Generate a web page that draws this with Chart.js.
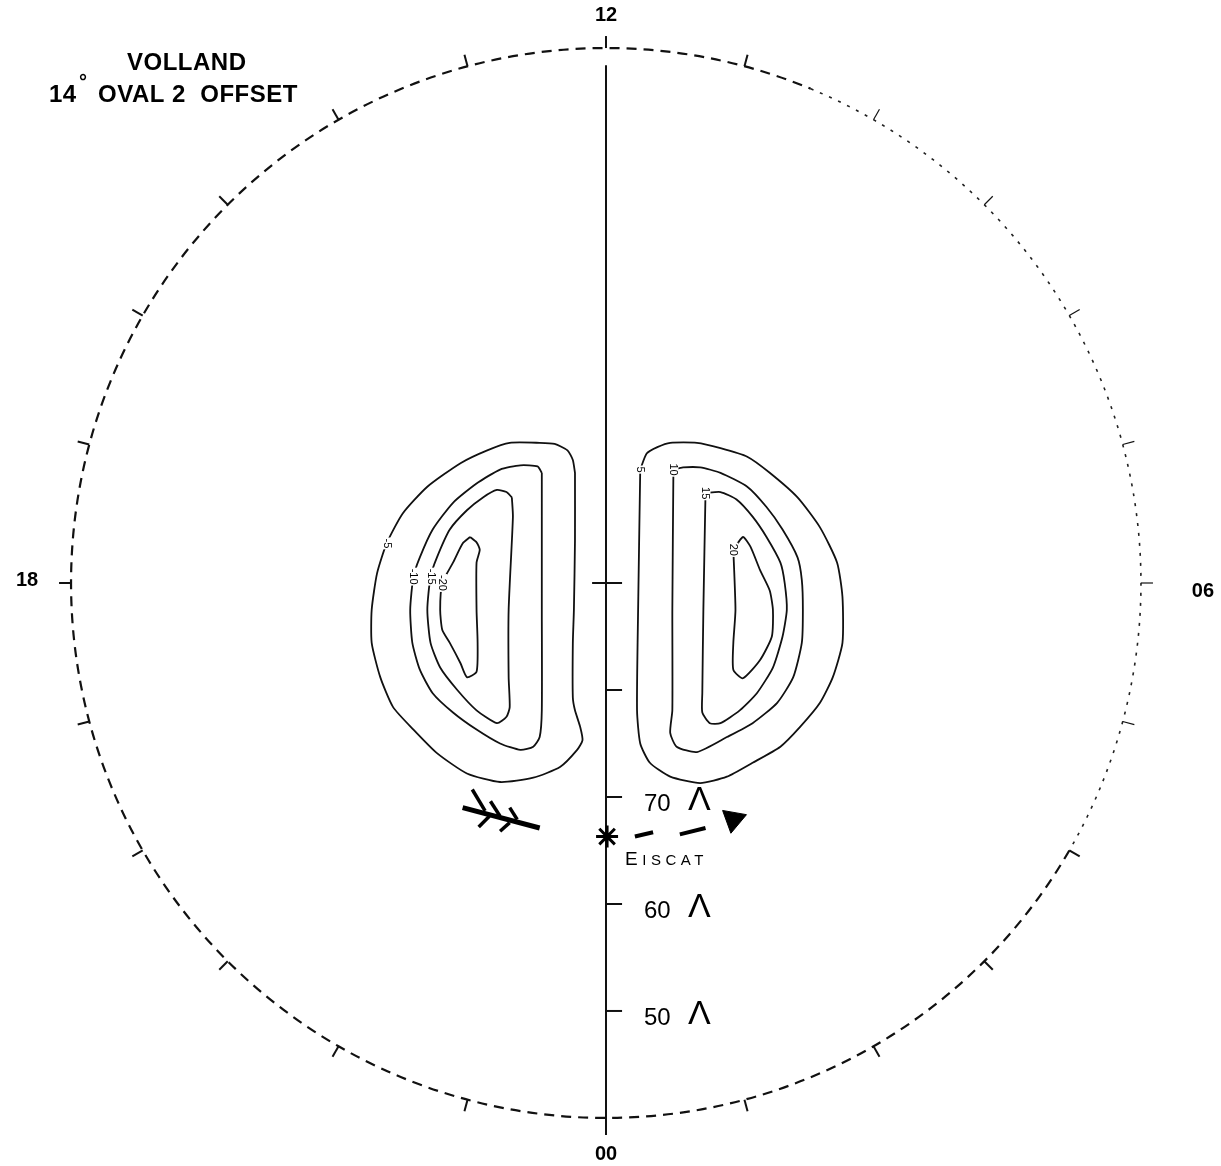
<!DOCTYPE html>
<html>
<head>
<meta charset="utf-8">
<title>Volland 14° oval 2 offset</title>
<script src="https://cdn.jsdelivr.net/npm/chart.js@4.4.1/dist/chart.umd.min.js"></script>
<style>
  html, body { margin: 0; padding: 0; background: #fff; }
  #wrap { width: 1221px; height: 1166px; }
</style>
</head>
<body>
<div id="wrap"><canvas id="mapa" width="1221" height="1166"></canvas></div>
<script>
// polar map, x / y = degrees of colatitude from the pole (12 MLT up, 18 MLT left)
const hourLabels = ['12', '18', '00', '06'];
const latTicks = [90, 80, 70, 60, 50];
const latLabels = [70, 60, 50];
const boundaryColat = 50;

// potential contours (kV)
const contourLevels = ['-5', '-10', '-15', '-20', '5', '10', '15', '20'];
const labelAt = [10, 8, 7, 12, 0, 0, 0, 0];

const cNeg5 = [[-2.9,10.3],[-3.1,11.5],[-3.6,12.4],[-4.8,13.0],[-6.2,13.1],[-9.0,13.1],[-11.1,12.4],[-13.6,11.2],
  [-16.7,9.0],[-19.0,6.5],[-20.5,3.7],[-21.4,0.9],[-21.9,-2.5],[-21.9,-5.6],[-21.1,-8.8],[-19.9,-11.6],
  [-18.0,-13.7],[-15.8,-15.9],[-13.0,-17.8],[-9.9,-18.6],[-6.8,-18.2],[-4.3,-17.2],[-2.7,-15.6],[-2.2,-14.7],
  [-2.4,-13.5],[-2.9,-11.9],[-3.1,-10.7],[-3.1,-5.6],[-3.0,-2.5],[-2.9,4.0],[-2.9,10.3]];
const cNeg10 = [[-6.0,10.3],[-6.4,10.9],[-8.0,11.0],[-9.9,10.6],[-12.1,9.3],[-14.3,7.5],[-16.2,5.0],[-17.4,2.4],
  [-18.0,0.6],[-18.3,-2.5],[-18.1,-5.6],[-17.4,-8.1],[-16.2,-10.3],[-14.3,-12.1],[-12.1,-13.7],[-9.9,-15.0],
  [-8.0,-15.6],[-6.8,-15.3],[-6.2,-14.4],[-6.0,-11.9],[-6.0,-2.5],[-6.0,10.3]];
const cNeg15 = [[-8.8,8.0],[-9.3,8.5],[-10.2,8.7],[-11.5,8.0],[-13.0,6.8],[-14.6,5.0],[-15.8,2.4],[-16.4,0.6],
  [-16.7,-2.5],[-16.4,-5.6],[-15.5,-7.9],[-13.9,-10.0],[-12.1,-11.9],[-10.2,-13.1],[-9.3,-12.5],[-9.0,-11.6],
  [-9.1,-8.8],[-9.1,-2.5],[-8.7,6.2],[-8.8,8.0]];
const cNeg20 = [[-12.7,4.3],[-12.1,3.8],[-11.8,3.1],[-12.1,1.9],[-12.1,-2.5],[-12.0,-5.6],[-12.1,-8.3],[-13.0,-8.8],
  [-13.6,-7.5],[-14.6,-5.6],[-15.3,-4.4],[-15.5,-2.5],[-15.3,0.0],[-14.3,1.9],[-13.4,3.7],[-12.7,4.3]];
const cPos5 = [[3.2,10.6],[3.8,12.1],[4.8,12.7],[6.0,13.1],[8.5,13.1],[10.7,12.6],[13.2,11.8],[15.3,10.3],
  [17.9,8.0],[20.0,5.2],[21.6,1.9],[22.1,-1.3],[22.1,-5.6],[21.2,-8.8],[20.0,-11.2],[18.1,-13.5],
  [16.3,-15.3],[13.7,-16.8],[11.3,-18.1],[8.8,-18.7],[6.0,-18.1],[4.1,-16.8],[3.2,-15.0],[2.9,-11.9],
  [3.0,-2.5],[3.2,10.6]];
const cPos10 = [[6.3,10.6],[7.2,10.8],[8.8,10.8],[10.7,10.3],[13.2,9.0],[15.0,7.1],[16.5,5.0],[17.9,2.4],
  [18.3,0.3],[18.4,-2.5],[18.3,-5.6],[17.5,-8.8],[16.0,-11.2],[13.7,-13.1],[11.3,-14.4],[8.5,-15.8],
  [6.6,-15.3],[6.0,-14.0],[6.2,-11.9],[6.2,-2.5],[6.3,10.6]];
const cPos15 = [[9.3,8.4],[10.7,8.5],[12.2,7.8],[13.7,6.2],[15.0,4.3],[16.3,1.9],[16.7,0.0],[16.9,-2.5],
  [16.5,-5.0],[15.6,-7.9],[14.1,-10.3],[12.5,-11.9],[10.7,-13.1],[9.7,-13.1],[9.0,-12.1],[9.0,-10.3],
  [9.1,-2.5],[9.3,8.4]];
const cPos20 = [[11.9,3.1],[12.8,4.3],[13.5,3.4],[14.4,1.2],[15.3,-0.7],[15.6,-2.5],[15.5,-5.0],[14.4,-7.2],
  [12.8,-8.9],[11.9,-8.1],[11.9,-5.6],[12.1,-2.5],[11.9,3.1]];
const contours = [cNeg5, cNeg10, cNeg15, cNeg20, cPos5, cPos10, cPos15, cPos20];

// hand-drawn flow marks near EISCAT
const eiscat = [0.1, -23.7];
const flowShaft = [[-13.4,-21.0],[-6.2,-22.9]];
const flowBarbs = [
  [[-12.5,-19.3],[-11.3,-21.3]],
  [[-10.8,-20.4],[-9.9,-21.8]],
  [[-9.0,-21.0],[-8.3,-22.1]],
  [[-11.9,-22.8],[-10.9,-21.8]],
  [[-9.9,-23.2],[-9.0,-22.4]]
];
const flowDashes = [
  [[2.7,-23.7],[4.4,-23.3]],
  [[6.9,-23.5],[9.3,-22.9]]
];
const flowHead = [11.9, -22.1];

const toXY = arr => arr.map(p => ({ x: p[0], y: p[1] }));

const datasets = [];
contours.forEach((c, i) => {
  datasets.push({
    label: contourLevels[i],
    data: toXY(c),
    showLine: true,
    borderColor: '#111',
    borderWidth: 1.8,
    pointRadius: 0,
    tension: 0.2
  });
});
datasets.push({ label: 'shaft', data: toXY(flowShaft), showLine: true, borderColor: '#000', borderWidth: 5, pointRadius: 0 });
flowBarbs.forEach(b => {
  datasets.push({ label: 'barb', data: toXY(b), showLine: true, borderColor: '#000', borderWidth: 3.5, pointRadius: 0 });
});
flowDashes.forEach(d => {
  datasets.push({ label: 'dash', data: toXY(d), showLine: true, borderColor: '#000', borderWidth: 4, pointRadius: 0 });
});
datasets.push({ label: 'head', data: toXY([flowHead]), pointStyle: 'triangle', rotation: 190, pointRadius: 14,
  backgroundColor: '#000', borderColor: '#000', borderWidth: 1 });
datasets.push({ label: 'EISCAT', data: toXY([eiscat]), pointStyle: 'star', pointRadius: 11,
  borderColor: '#000', borderWidth: 3 });

const FONT = '"Liberation Sans", Arial, sans-serif';

const marco = {
  id: 'marco',
  beforeDatasetsDraw(chart) {
    const { ctx, scales: { x, y } } = chart;
    const cx = x.getPixelForValue(0), cy = y.getPixelForValue(0);
    const rx = x.getPixelForValue(boundaryColat) - cx;
    const ry = cy - y.getPixelForValue(boundaryColat);
    const deg = Math.PI / 180;
    ctx.save();
    ctx.strokeStyle = '#111';
    // boundary circle: heavy dashes, the dawn side copied faint
    ctx.lineWidth = 2.2;
    ctx.setLineDash([10, 7]);
    ctx.beginPath();
    ctx.ellipse(cx, cy, rx, ry, 0, 30 * deg, 292.5 * deg);
    ctx.stroke();
    ctx.strokeStyle = '#222';
    ctx.lineWidth = 1.6;
    ctx.setLineDash([3, 7]);
    ctx.beginPath();
    ctx.ellipse(cx, cy, rx, ry, 0, -67.5 * deg, 30 * deg);
    ctx.stroke();
    ctx.setLineDash([]);

    // hour ticks, pointing outwards
    ctx.strokeStyle = '#111';
    for (let h = 0; h < 24; h++) {
      const a = (h - 12) * Math.PI / 12;
      const sx = -Math.sin(a), sy = -Math.cos(a);
      ctx.lineWidth = (h > 4 && h < 11) ? 1.2 : 2;
      ctx.beginPath();
      ctx.moveTo(cx + sx * rx, cy + sy * ry);
      ctx.lineTo(cx + sx * (rx + 12), cy + sy * (ry + 12));
      ctx.stroke();
    }

    // 12-00 meridian
    ctx.lineWidth = 2;
    ctx.beginPath();
    ctx.moveTo(cx, y.getPixelForValue(48.4));
    ctx.lineTo(cx, y.getPixelForValue(-51.6));
    ctx.stroke();

    // latitude ticks down the midnight meridian
    latTicks.forEach(lat => {
      const py = y.getPixelForValue(-(90 - lat));
      ctx.beginPath();
      ctx.moveTo(lat === 90 ? x.getPixelForValue(-1.3) : cx, py);
      ctx.lineTo(x.getPixelForValue(1.5), py);
      ctx.stroke();
    });
    ctx.restore();
  },
  afterDatasetsDraw(chart) {
    const { ctx, scales: { x, y } } = chart;
    const cx = x.getPixelForValue(0), cy = y.getPixelForValue(0);
    const rx = x.getPixelForValue(boundaryColat) - cx;
    const ry = cy - y.getPixelForValue(boundaryColat);
    ctx.save();
    ctx.fillStyle = '#000';
    ctx.textAlign = 'center';
    ctx.textBaseline = 'middle';

    // MLT labels
    ctx.font = 'bold 20px ' + FONT;
    const gap = { '12': [0, -ry - 33], '18': [-rx - 44, -3], '00': [0, ry + 37], '06': [rx + 62, 8] };
    hourLabels.forEach(t => ctx.fillText(t, cx + gap[t][0], cy + gap[t][1]));

    // latitude labels with Lambda
    latLabels.forEach(lat => {
      const py = y.getPixelForValue(-(90 - lat));
      ctx.textAlign = 'left';
      ctx.font = '24px ' + FONT;
      ctx.fillText(String(lat), cx + 38, py + 7);
      ctx.font = '34px ' + FONT;
      ctx.fillText('\u039B', cx + 82, py + 4);
    });

    // contour labels, sitting on the lines
    ctx.font = '11px ' + FONT;
    ctx.textAlign = 'center';
    contourLevels.forEach((lev, i) => {
      const pt = chart.getDatasetMeta(i).data[labelAt[i]];
      ctx.save();
      ctx.translate(pt.x, pt.y);
      ctx.rotate(Math.PI / 2);
      const w = ctx.measureText(lev).width;
      ctx.fillStyle = '#fff';
      ctx.fillRect(-w / 2 - 1, -5, w + 2, 10);
      ctx.fillStyle = '#000';
      ctx.fillText(lev, 0, 0);
      ctx.restore();
    });

    // EISCAT label under the star, in small caps
    const star = chart.getDatasetMeta(datasets.length - 1).data[0];
    ctx.textAlign = 'left';
    ctx.textBaseline = 'alphabetic';
    ctx.letterSpacing = '4.5px';
    ctx.font = '19px ' + FONT;
    ctx.fillText('E', star.x + 18, star.y + 28);
    const ew = ctx.measureText('E').width;
    ctx.font = '15px ' + FONT;
    ctx.fillText('ISCAT', star.x + 18 + ew, star.y + 28);

    // title block
    ctx.letterSpacing = '0.5px';
    ctx.font = 'bold 24px ' + FONT;
    ctx.fillText('VOLLAND', 127, 70);
    ctx.fillText('14', 49, 102);
    ctx.fillText('OVAL 2  OFFSET', 98, 102);
    ctx.font = 'bold 20px ' + FONT;
    ctx.fillText('\u00B0', 79, 88);
    ctx.restore();
  }
};

new Chart(document.getElementById('mapa'), {
  type: 'scatter',
  data: { datasets },
  options: {
    responsive: false,
    animation: false,
    layout: { padding: 0, autoPadding: false },
    plugins: {
      legend: { display: false },
      tooltip: { enabled: false }
    },
    scales: {
      x: { type: 'linear', display: false, min: -56.64, max: 57.48 },
      y: { type: 'linear', display: false, min: -54.49, max: 54.49 }
    }
  },
  plugins: [marco]
});
</script>
</body>
</html>
